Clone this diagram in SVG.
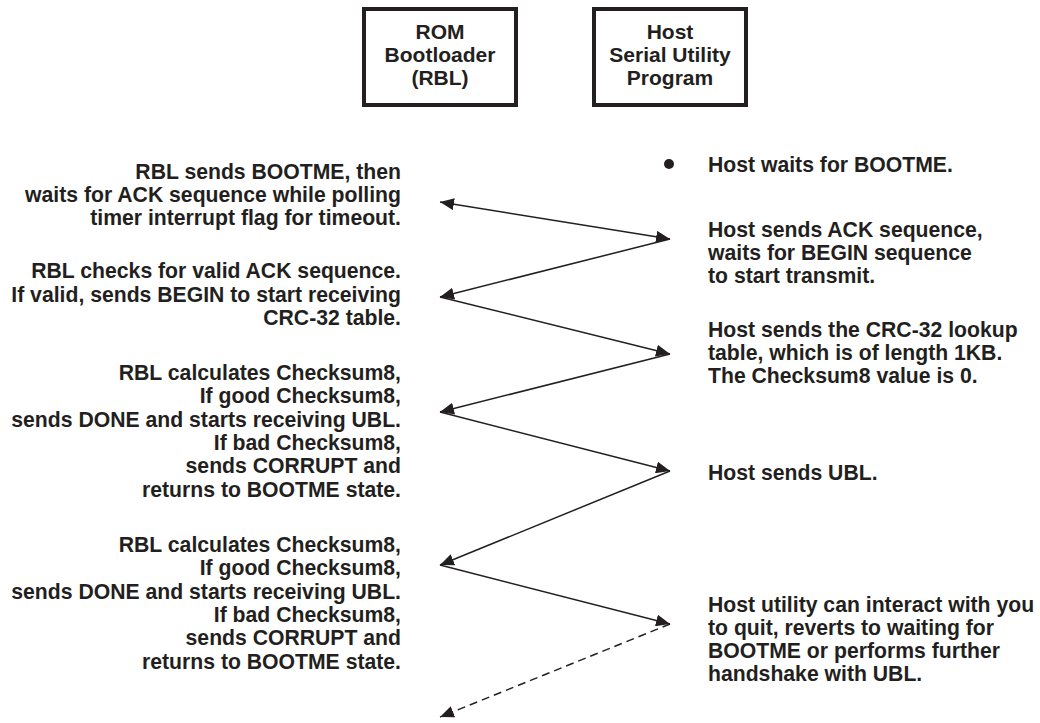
<svg xmlns="http://www.w3.org/2000/svg" width="1040" height="723" viewBox="0 0 1040 723">
  <style>
    .box { fill: #ffffff; stroke: #231f20; stroke-width: 4; }
    .lbl { font-family: "Liberation Sans", Arial, Helvetica, sans-serif; font-weight: bold; font-size: 21.2px; fill: #231f20; }
    .title { font-size: 21px; }
    .mid { text-anchor: middle; }
    .end { text-anchor: end; }
    .msg { fill: none; stroke: #231f20; stroke-width: 1.5; }
    .dash { stroke-dasharray: 8 5; }
  </style>
  <defs>
    <marker id="tri" viewBox="0 0 14 12" refX="14" refY="6" markerWidth="14" markerHeight="12" markerUnits="userSpaceOnUse" orient="auto-start-reverse">
      <path d="M0,0 L14,6 L0,12 z" fill="#231f20"/>
    </marker>
  </defs>
  <rect width="1040" height="723" fill="#ffffff"/>

  <!-- participants -->
  <g id="rbl">
    <rect class="box" x="364" y="9" width="152" height="96"/>
    <text class="lbl title mid" x="440" y="39">ROM</text>
    <text class="lbl title mid" x="440" y="62">Bootloader</text>
    <text class="lbl title mid" x="440" y="85">(RBL)</text>
  </g>
  <g id="host">
    <rect class="box" x="594" y="9" width="152" height="96"/>
    <text class="lbl title mid" x="670" y="39">Host</text>
    <text class="lbl title mid" x="670" y="62">Serial Utility</text>
    <text class="lbl title mid" x="670" y="85">Program</text>
  </g>

  <!-- RBL side notes -->
  <g id="rbl-bootme">
    <text class="lbl end" x="401" y="179">RBL sends BOOTME, then</text>
    <text class="lbl end" x="401" y="202">waits for ACK sequence while polling</text>
    <text class="lbl end" x="401" y="225">timer interrupt flag for timeout.</text>
  </g>
  <g id="rbl-ack">
    <text class="lbl end" x="401" y="278">RBL checks for valid ACK sequence.</text>
    <text class="lbl end" x="401" y="302">If valid, sends BEGIN to start receiving</text>
    <text class="lbl end" x="401" y="325">CRC-32 table.</text>
  </g>
  <g id="rbl-crc">
    <text class="lbl end" x="401" y="380">RBL calculates Checksum8,</text>
    <text class="lbl end" x="401" y="403">If good Checksum8,</text>
    <text class="lbl end" x="401" y="427">sends DONE and starts receiving UBL.</text>
    <text class="lbl end" x="401" y="450">If bad Checksum8,</text>
    <text class="lbl end" x="401" y="473">sends CORRUPT and</text>
    <text class="lbl end" x="401" y="497">returns to BOOTME state.</text>
  </g>
  <g id="rbl-ubl">
    <text class="lbl end" x="401" y="552">RBL calculates Checksum8,</text>
    <text class="lbl end" x="401" y="575">If good Checksum8,</text>
    <text class="lbl end" x="401" y="599">sends DONE and starts receiving UBL.</text>
    <text class="lbl end" x="401" y="622">If bad Checksum8,</text>
    <text class="lbl end" x="401" y="645">sends CORRUPT and</text>
    <text class="lbl end" x="401" y="669">returns to BOOTME state.</text>
  </g>

  <!-- Host side notes -->
  <g id="host-wait">
    <circle cx="669" cy="164" r="5" fill="#231f20"/>
    <text class="lbl" x="708" y="172">Host waits for BOOTME.</text>
  </g>
  <g id="host-ack">
    <text class="lbl" x="708" y="237">Host sends ACK sequence,</text>
    <text class="lbl" x="708" y="260">waits for BEGIN sequence</text>
    <text class="lbl" x="708" y="283">to start transmit.</text>
  </g>
  <g id="host-crc">
    <text class="lbl" x="708" y="337">Host sends the CRC-32 lookup</text>
    <text class="lbl" x="708" y="360">table, which is of length 1KB.</text>
    <text class="lbl" x="708" y="383">The Checksum8 value is 0.</text>
  </g>
  <g id="host-ubl">
    <text class="lbl" x="708" y="480">Host sends UBL.</text>
  </g>
  <g id="host-end">
    <text class="lbl" x="708" y="612">Host utility can interact with you</text>
    <text class="lbl" x="708" y="635">to quit, reverts to waiting for</text>
    <text class="lbl" x="708" y="658">BOOTME or performs further</text>
    <text class="lbl" x="708" y="681">handshake with UBL.</text>
  </g>

  <!-- message exchange -->
  <g id="connectors">
    <line class="msg" x1="440" y1="202" x2="670" y2="239" marker-start="url(#tri)" marker-end="url(#tri)"/>
    <line class="msg" x1="670" y1="239" x2="440" y2="297" marker-end="url(#tri)"/>
    <line class="msg" x1="440" y1="297" x2="670" y2="354" marker-end="url(#tri)"/>
    <line class="msg" x1="670" y1="354" x2="440" y2="412" marker-end="url(#tri)"/>
    <line class="msg" x1="440" y1="412" x2="670" y2="471" marker-end="url(#tri)"/>
    <line class="msg" x1="670" y1="471" x2="440" y2="565" marker-end="url(#tri)"/>
    <line class="msg" x1="440" y1="565" x2="670" y2="624" marker-end="url(#tri)"/>
    <line class="msg dash" x1="670" y1="624" x2="440" y2="717" marker-end="url(#tri)"/>
  </g>
</svg>
